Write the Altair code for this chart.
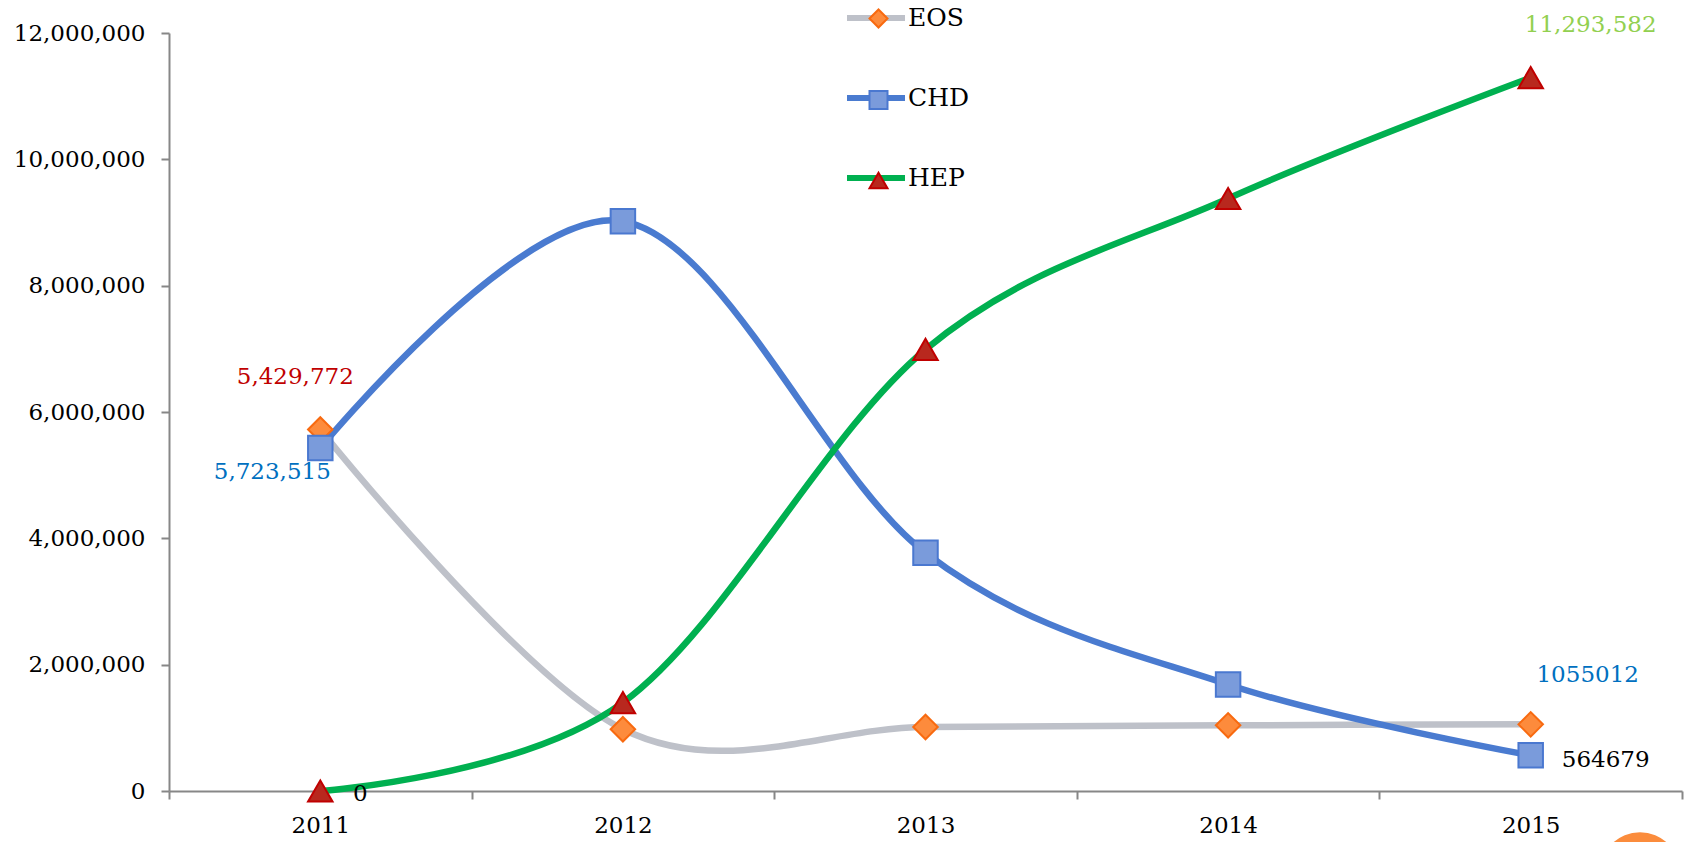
import altair as alt
import pandas as pd

years = ["2011", "2012", "2013", "2014", "2015"]
series_names = ["EOS", "CHD", "HEP"]
eos = [5723515, 978000, 1013000, 1040000, 1055012]
chd = [5429772, 9020000, 3770000, 1686000, 564679]
hep = [0, 1400000, 6990000, 9380000, 11293582]
y_ticks = [0, 2000000, 4000000, 6000000, 8000000, 10000000, 12000000]

line_colors = ["#BEC1C9", "#4A7BD0", "#00B050"]
marker_fills = ["#FD8B3C", "#7A9BDB", "#B8281E"]
marker_strokes = ["#F86A10", "#4A78D0", "#C00000"]
marker_shapes = ["diamond", "square", "triangle-up"]

# data labels: (year, value, text, colour, dx, dy)
label_years = ["2011", "2011", "2011", "2015", "2015", "2015"]
label_values = [5429772, 5723515, 0, 11293582, 1055012, 564679]
label_texts = ["5,429,772", "5,723,515", "0", "11,293,582", "1055012", "564679"]
label_colors = ["#C00000", "#0070C0", "#000000", "#92D050", "#0070C0", "#000000"]
label_dx = [-25, -48, 40, 60, 57, 75]
label_dy = [-64, 50, 10, -46, -42, 12]

rows = []
for name, vals in zip(series_names, [eos, chd, hep]):
    for y, v in zip(years, vals):
        rows.append({"year": y, "value": v, "series": name, "series2": name + " "})
df = pd.DataFrame(rows)

FONT = "DejaVu Serif"

x_axis = alt.Axis(title=None, labelAngle=0, tickBand="extent", labelFontSize=23,
                  labelPadding=15, tickSize=8, grid=False, labelFont=FONT)
y_axis = alt.Axis(title=None, values=y_ticks, labelExpr="format(datum.value, ',')",
                  labelFontSize=23, labelPadding=16, tickSize=8, grid=False, labelFont=FONT)
x_scale = alt.Scale(domain=years, paddingInner=0, paddingOuter=0)
y_scale = alt.Scale(domain=[0, 12000000], nice=False)


def xe():
    return alt.X("year:N", scale=x_scale, axis=x_axis)


def ye():
    return alt.Y("value:Q", scale=y_scale, axis=y_axis)


base = alt.Chart(df)

lines = base.mark_line(interpolate="cardinal", strokeWidth=6.5).encode(
    x=xe(), y=ye(),
    color=alt.Color("series:N", scale=alt.Scale(domain=series_names, range=line_colors),
                    legend=alt.Legend(title=None, orient="none", legendX=675, legendY=-47,
                                      symbolType="stroke", symbolSize=3364, symbolStrokeWidth=6,
                                      labelFontSize=25, labelOffset=0, rowPadding=35,
                                      padding=0, labelFont=FONT)),
    order=alt.Order("year:N"),
)

dom2 = [s + " " for s in series_names]
points = base.mark_point(filled=True, size=600, opacity=1, strokeWidth=2).encode(
    x=xe(), y=ye(),
    fill=alt.Fill("series2:N", scale=alt.Scale(domain=dom2, range=marker_fills),
                  legend=alt.Legend(title=None, orient="none", legendX=697, legendY=-27,
                                    symbolSize=324, symbolStrokeWidth=2, labelFontSize=25,
                                    labelExpr="''", rowPadding=54.5, padding=0, labelFont=FONT)),
    stroke=alt.Stroke("series2:N", scale=alt.Scale(domain=dom2, range=marker_strokes)),
    shape=alt.Shape("series2:N", scale=alt.Scale(domain=dom2, range=marker_shapes)),
)

layers = [lines, points]
for i in range(len(label_texts)):
    ldf = pd.DataFrame({"year": [label_years[i]], "value": [label_values[i]], "text": [label_texts[i]]})
    layers.append(
        alt.Chart(ldf).mark_text(font=FONT, fontSize=23, color=label_colors[i],
                                 dx=label_dx[i], dy=label_dy[i], align="center",
                                 baseline="alphabetic").encode(
            x=xe(), y=ye(), text="text:N")
    )

circle = alt.Chart(pd.DataFrame({"a": [0]})).mark_circle(color="#FB8C3C", opacity=1, size=6360).encode(
    x=alt.value(1471), y=alt.value(839))
layers.append(circle)

chart = alt.layer(*layers).resolve_scale(
    color="independent", fill="independent", stroke="independent", shape="independent"
).properties(
    width=1513, height=758,
    autosize=alt.AutoSizeParams(type="none"),
    padding={"left": 169, "top": 33, "right": 10, "bottom": 51},
).configure_view(stroke=None).configure_axis(
    labelFont=FONT, labelColor="#000000", domainColor="#878787", tickColor="#878787",
    domainWidth=2, tickWidth=2,
).configure_legend(labelColor="#000000")

chart.save("out.html", embed_options={"renderer": "svg", "actions": False})
